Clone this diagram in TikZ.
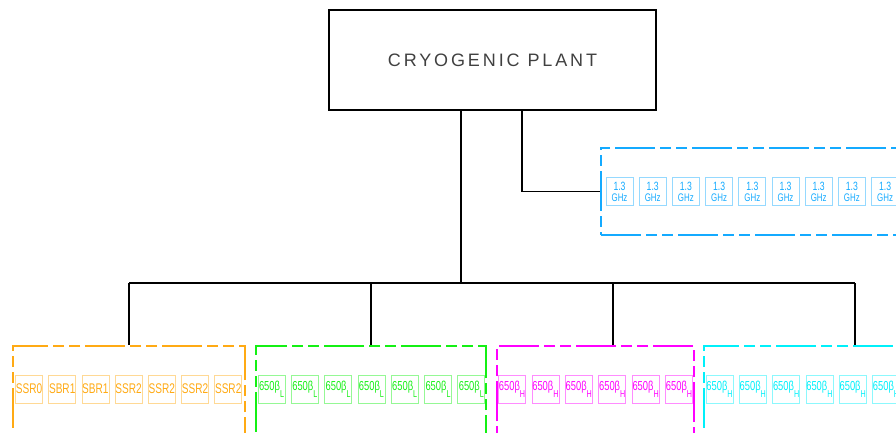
\documentclass[tikz,border=0pt]{standalone}
\usepackage{fontspec}
\setmainfont{Liberation Sans}
\newfontfamily\cadfont[FakeStretch=0.72]{Liberation Sans}
\definecolor{ssrorange}{RGB}{255,170,20}
\definecolor{lbgreen}{RGB}{20,240,20}
\definecolor{hbmagenta}{RGB}{255,0,255}
\definecolor{hbcyan}{RGB}{0,240,250}
\definecolor{ghzblue}{RGB}{20,170,255}
\tikzset{
  plant/.style={rectangle, draw, line width=1.4pt, minimum width=327pt,
                minimum height=100pt, text=black!75,
                font=\fontsize{18}{20}\selectfont\addfontfeatures{LetterSpace=16}},
  group/.style={rectangle, draw=#1, line width=1.6pt, inner sep=0pt,
                dash pattern=on 40pt off 5pt on 11pt off 5pt on 11pt off 5pt},
  cell/.style={rectangle, draw=#1!45, text=#1, line width=0.7pt,
               minimum width=27pt, minimum height=28pt, inner sep=0pt,
               font=\cadfont\fontsize{14}{15}\selectfont},
  ghzcell/.style={cell=#1, align=center,
                  font=\cadfont\fontsize{11}{11}\selectfont},
  link/.style={draw, line width=1.4pt},
}
\newcommand{\betalbl}[1]{\fontsize{13}{14}\selectfont 650β\raisebox{-7pt}{\fontsize{10}{10}\selectfont #1}}

\begin{document}
\begin{tikzpicture}[x=1pt, y=-1pt]
  \useasboundingbox (0,0) rectangle (896,432);
  \clip (0,0) rectangle (896,432);

  % Plant
  \node[plant] (plant) at (492.5,60) {CRYOGENIC PLANT};

  % Linac groups
  \node[group=ghzblue, minimum width=330pt, minimum height=87pt] (ghz) at (766,191.5) {};
  \node[group=ssrorange, minimum width=232pt, minimum height=110pt] (ssr) at (129,401) {};
  \node[group=lbgreen, minimum width=230pt, minimum height=110pt] (lbeta) at (371,401) {};
  \node[group=hbmagenta, minimum width=197pt, minimum height=110pt] (hbeta) at (595.5,401) {};
  \node[group=hbcyan, minimum width=232pt, minimum height=110pt] (hbetb) at (820,401) {};

  % Cavities
  \foreach \i in {1,...,9}
    \node[ghzcell=ghzblue] (ghz\i) at ({619.5+33.2*(\i-1)},191.5)
      {{\fontsize{12}{12}\selectfont 1.3}\\GHz};
  \foreach \lbl [count=\i] in {SSR0,SBR1,SBR1,SSR2,SSR2,SSR2,SSR2}
    \node[cell=ssrorange] (ssr\i) at ({29+33.2*(\i-1)},389) {\lbl};
  \foreach \i in {1,...,7}
    \node[cell=lbgreen] (lb\i) at ({271.5+33.3*(\i-1)},389) {\betalbl{L}};
  \foreach \i in {1,...,6}
    \node[cell=hbmagenta] (hb\i) at ({512+33.4*(\i-1)},389) {\betalbl{H}};
  \foreach \i in {1,...,6}
    \node[cell=hbcyan] (hc\i) at ({719.5+33.3*(\i-1)},389) {\betalbl{H}};

  % Distribution lines
  \coordinate (trunk) at (461,283);
  \coordinate (tap) at (522,0);
  \coordinate (busA) at (129,283);
  \coordinate (busB) at (371,283);
  \coordinate (busC) at (613,283);
  \coordinate (busD) at (855,283);
  \draw[link] (plant.south -| trunk) -- (trunk);
  \draw[link] (plant.south -| tap) |- (ghz.west);
  \draw[link] (busA) -- (busD);
  \draw[link] (busA) -- (ssr.north);
  \draw[link] (busB) -- (lbeta.north);
  \draw[link] (busC) -- (busC |- hbeta.north);
  \draw[link] (busD) -- (busD |- hbetb.north);
\end{tikzpicture}
\end{document}
